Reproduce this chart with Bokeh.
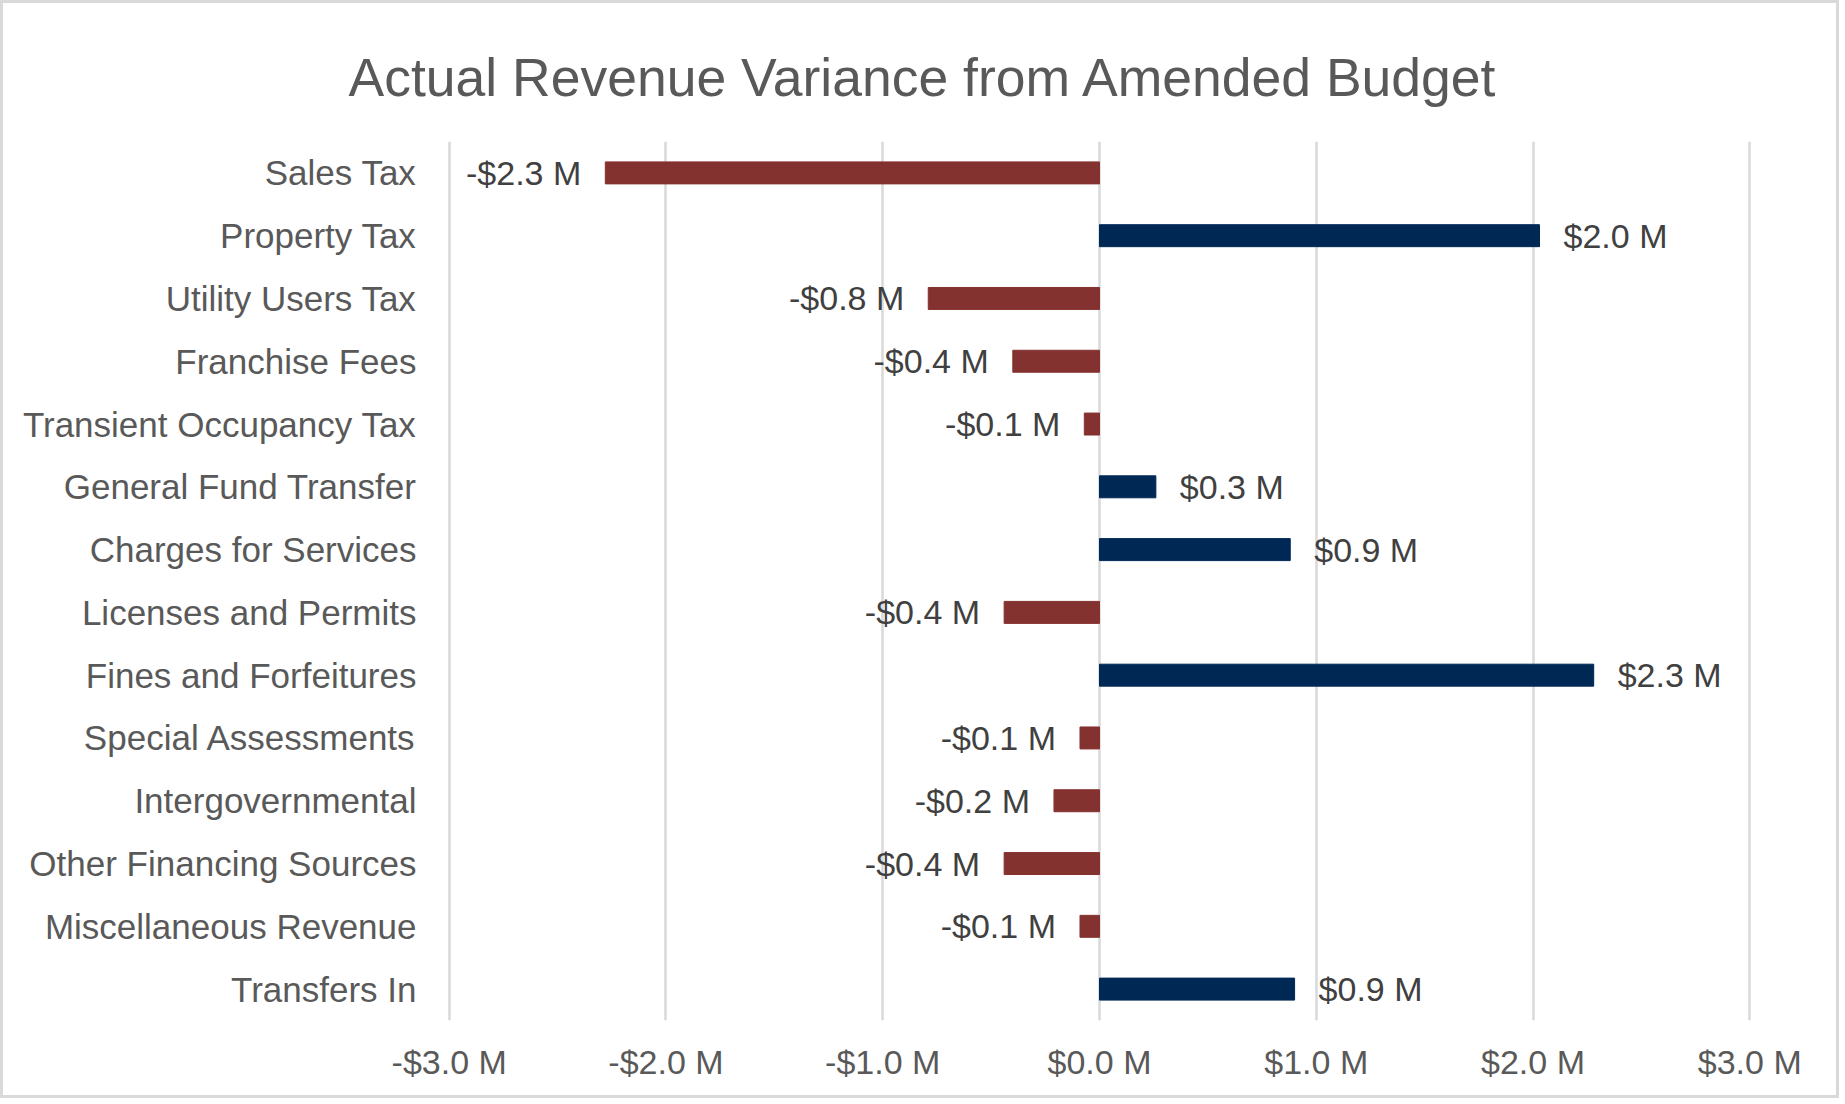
from bokeh.plotting import figure
from bokeh.models import Range1d, FactorRange, FixedTicker, ColumnDataSource
from bokeh.core.properties import value
from bokeh.embed import file_html
from bokeh.resources import INLINE

TITLE = "Actual Revenue Variance from Amended Budget"
categories = ["Sales Tax", "Property Tax", "Utility Users Tax", "Franchise Fees",
              "Transient Occupancy Tax", "General Fund Transfer", "Charges for Services",
              "Licenses and Permits", "Fines and Forfeitures", "Special Assessments",
              "Intergovernmental", "Other Financing Sources", "Miscellaneous Revenue",
              "Transfers In"]
variance_m = [-2.28, 2.03, -0.79, -0.40, -0.07, 0.26, 0.88, -0.44, 2.28, -0.09,
              -0.21, -0.44, -0.09, 0.90]
tick_values = [-3, -2, -1, 0, 1, 2, 3]
tick_labels = ["-$3.0 M", "-$2.0 M", "-$1.0 M", "$0.0 M", "$1.0 M", "$2.0 M", "$3.0 M"]

NEG = "#843230"
POS = "#002855"
FONT = "Liberation Sans"

def fmt(v):
    return ("-$%.1f M" % abs(v)) if v < 0 else ("$%.1f M" % v)

colors = [NEG if v < 0 else POS for v in variance_m]
labels = [fmt(v) for v in variance_m]
offsets = [-24 if v < 0 else 24 for v in variance_m]
aligns = ["right" if v < 0 else "left" for v in variance_m]

src = ColumnDataSource(dict(cat=categories, val=variance_m, color=colors,
                            label=labels, off=offsets, align=aligns))

p = figure(width=1839, height=1098, output_backend="svg", toolbar_location=None,
           y_range=FactorRange(factors=list(reversed(categories))),
           x_range=Range1d(-3.008, 3.008),
           min_border_left=444, min_border_right=91, min_border_top=138,
           min_border_bottom=81)
p.styles = {"border": "3px solid #d9d9d9"}

p.title.text = TITLE
p.title.text_font = FONT
p.title.text_font_size = "53.5px"
p.title.text_font_style = "normal"
p.title.text_color = "#595959"
p.title.align = "left"
p.title.offset = -99
p.title.standoff = 65
p.title.vertical_align = "top"

p.hbar(y="cat", left=0, right="val", height=0.35, color="color", source=src)
p.text(x="val", y="cat", text="label", x_offset="off", text_align="align",
       text_baseline="middle", text_font=value(FONT), text_font_size="34px",
       text_color="#404040", source=src)

p.xaxis.ticker = FixedTicker(ticks=tick_values)
p.xaxis.major_label_overrides = {t: l for t, l in zip(tick_values, tick_labels)}
for ax in (p.xaxis[0], p.yaxis[0]):
    ax.axis_line_color = None
    ax.major_tick_line_color = None
    ax.minor_tick_line_color = None
    ax.major_label_text_font = FONT
    ax.major_label_text_color = "#595959"
p.xaxis.major_label_text_font_size = "34px"
p.xaxis.major_label_standoff = 16
p.yaxis.major_label_text_font_size = "35px"
p.yaxis.major_label_standoff = 25

p.xgrid.grid_line_color = "#d9d9d9"
p.xgrid.grid_line_width = 2.5
p.ygrid.grid_line_color = None
p.outline_line_color = None
p.background_fill_color = "white"
p.border_fill_color = "white"

open("out.html", "w").write(file_html(p, INLINE))
